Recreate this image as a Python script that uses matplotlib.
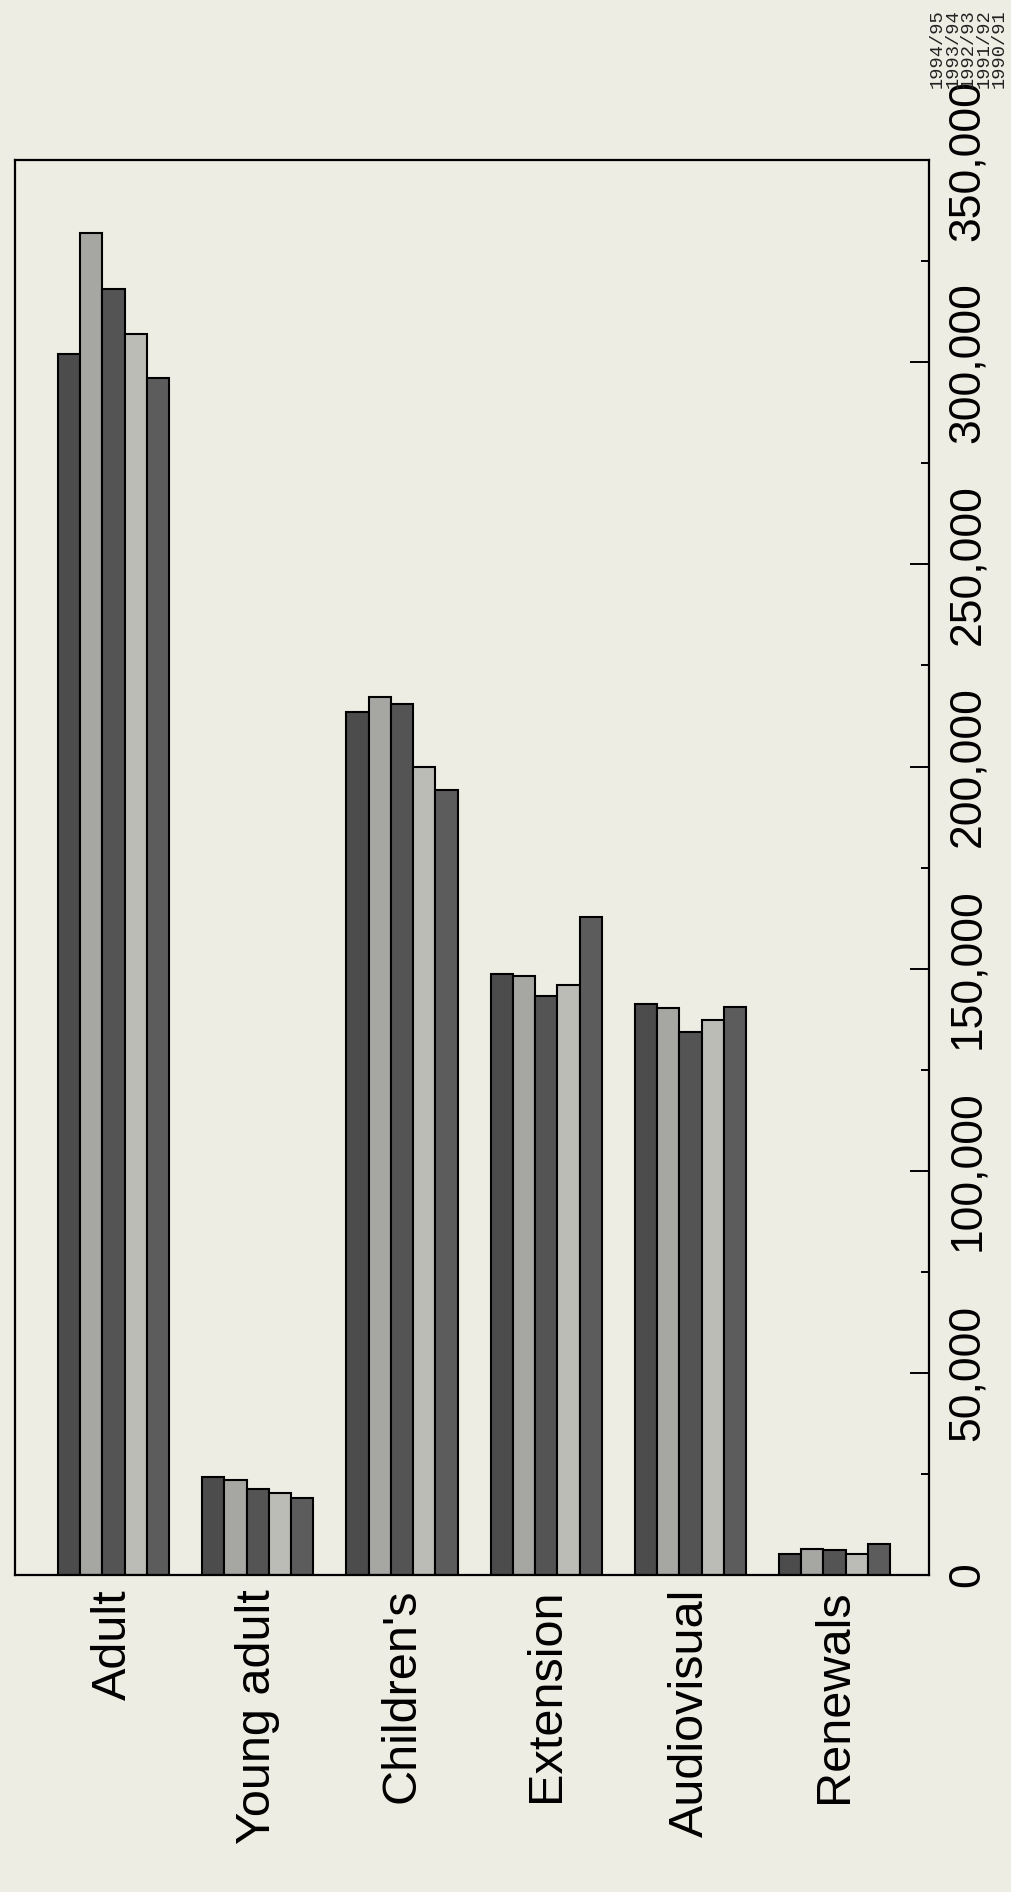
import numpy as np
import matplotlib
matplotlib.use("Agg")
import matplotlib.pyplot as plt
from matplotlib.ticker import FixedLocator, FuncFormatter

# -----------------------
# DATA
# -----------------------
categories = ["Adult", "Young adult", "Children's", "Extension", "Audiovisual", "Renewals"]
years = ["1994/95", "1993/94", "1992/93", "1991/92", "1990/91"]

v_1994_95 = [302000, 24300, 213400, 148600, 141200, 5100]
v_1993_94 = [332000, 23400, 217300, 148300, 140300, 6500]
v_1992_93 = [318000, 21200, 215500, 143300, 134400, 6200]
v_1991_92 = [307000, 20300, 200000, 146000, 137300, 5200]
v_1990_91 = [296000, 19100, 194300, 162800, 140600, 7700]
series = [v_1994_95, v_1993_94, v_1992_93, v_1991_92, v_1990_91]

major_ticks = [0, 50000, 100000, 150000, 200000, 250000, 300000, 350000]

# -----------------------
# STYLE
# -----------------------
paper = "#eeede3"
bar_colors = ["#4c4c4c", "#a6a6a2", "#545454", "#bcbcb7", "#5c5c5c"]
plt.rcParams["font.family"] = ["Liberation Sans", "DejaVu Sans"]

fig = plt.figure(figsize=(10.11, 18.92), dpi=100, facecolor=paper)
ax = fig.add_axes([0.0148, 0.1675, 0.904, 0.7479])
ax.set_facecolor(paper)

# -----------------------
# BARS
# -----------------------
x = np.arange(len(categories))
width = 0.154
for k, vals in enumerate(series):
    ax.bar(x + (k - 2) * width, vals, width, color=bar_colors[k],
           edgecolor="black", linewidth=1.5, label=years[k])

ax.set_xlim(-0.684, 5.654)
ax.set_ylim(0, 350000)

# -----------------------
# AXES
# -----------------------
for s in ax.spines.values():
    s.set_linewidth(1.6)
    s.set_color("black")

ax.set_xticks(x)
ax.set_xticklabels(categories, rotation=90, fontsize=35)
ax.tick_params(axis="x", length=0, pad=10)

ax.yaxis.tick_right()
ax.yaxis.set_major_locator(FixedLocator(major_ticks))
ax.yaxis.set_minor_locator(FixedLocator([t + 25000 for t in major_ticks[:-1]]))
ax.yaxis.set_major_formatter(FuncFormatter(lambda v, p: f"{int(v):,}"))
ax.tick_params(axis="y", which="major", direction="in", length=13.5, width=1.4,
               labelsize=32, labelrotation=90, pad=13)
ax.tick_params(axis="y", which="minor", direction="in", length=6, width=1.4)
for lbl in ax.get_yticklabels():
    lbl.set_verticalalignment("center")

# legend drawn as plain rotated text, like the scan
fig.text(0.919, 0.995, "\n".join(years), rotation=90, ha="left", va="top",
         fontsize=13.5, family=["Liberation Mono", "DejaVu Sans Mono"],
         linespacing=0.88, color="#222222")

fig.savefig("out.png", dpi=100, facecolor=fig.get_facecolor())
